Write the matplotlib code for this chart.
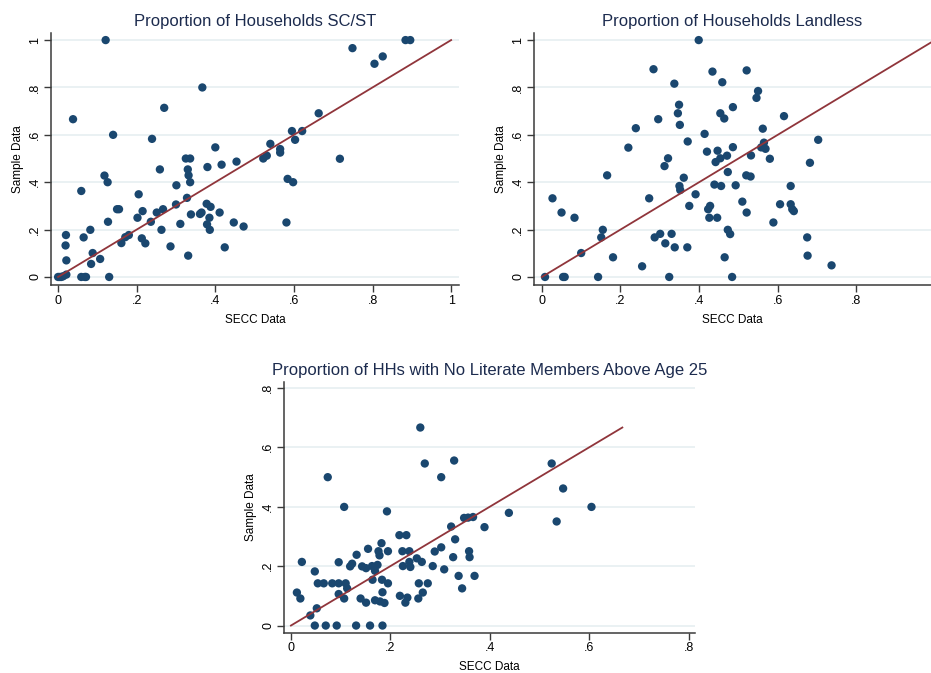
import numpy as np
import matplotlib
matplotlib.use("Agg")
import matplotlib.pyplot as plt

plt.rcParams['font.family'] = ['Liberation Sans', 'DejaVu Sans']

# Proportion of Households SC/ST
scst_secc = [0.121, 0.749, 0.884, 0.896, 0.826, 0.805, 0.367, 0.270, 0.038, 0.663,
             0.140, 0.239, 0.595, 0.621, 0.603, 0.400, 0.540, 0.565, 0.565, 0.522,
             0.531, 0.717, 0.325, 0.336, 0.330, 0.259, 0.380, 0.416, 0.454, 0.332,
             0.118, 0.126, 0.336, 0.584, 0.598, 0.059, 0.301, 0.205, 0.328, 0.300,
             0.378, 0.388, 0.150, 0.155, 0.267, 0.215, 0.251, 0.361, 0.365, 0.338,
             0.411, 0.202, 0.385, 0.127, 0.236, 0.311, 0.379, 0.447, 0.581, 0.472,
             0.082, 0.263, 0.386, 0.020, 0.065, 0.171, 0.180, 0.213, 0.161, 0.222,
             0.019, 0.286, 0.424, 0.088, 0.107, 0.021, 0.331, 0.084, 0.021, 0.013,
             0.000, 0.004, 0.008, 0.059, 0.068, 0.071, 0.130]
scst_sample = [1.000, 0.966, 1.000, 1.000, 0.931, 0.900, 0.800, 0.714, 0.666, 0.691,
               0.600, 0.583, 0.616, 0.616, 0.579, 0.547, 0.562, 0.540, 0.525, 0.500,
               0.512, 0.499, 0.500, 0.500, 0.454, 0.454, 0.464, 0.474, 0.487, 0.429,
               0.428, 0.400, 0.400, 0.414, 0.400, 0.363, 0.387, 0.349, 0.334, 0.306,
               0.309, 0.296, 0.286, 0.286, 0.286, 0.278, 0.272, 0.266, 0.272, 0.264,
               0.272, 0.250, 0.250, 0.233, 0.233, 0.224, 0.222, 0.230, 0.230, 0.213,
               0.199, 0.199, 0.199, 0.177, 0.167, 0.168, 0.177, 0.163, 0.143, 0.142,
               0.133, 0.129, 0.125, 0.101, 0.076, 0.070, 0.090, 0.055, 0.010, 0.003,
               0.000, 0.000, 0.000, 0.000, 0.000, 0.000, 0.000]

# Proportion of Households Landless
land_secc = [0.399, 0.284, 0.434, 0.521, 0.337, 0.459, 0.550, 0.546, 0.349, 0.486,
             0.346, 0.454, 0.464, 0.296, 0.616, 0.351, 0.239, 0.562, 0.414, 0.703,
             0.371, 0.565, 0.558, 0.569, 0.220, 0.486, 0.447, 0.420, 0.532, 0.471,
             0.321, 0.454, 0.580, 0.442, 0.682, 0.312, 0.473, 0.520, 0.531, 0.166,
             0.361, 0.439, 0.350, 0.352, 0.456, 0.493, 0.633, 0.391, 0.027, 0.273,
             0.510, 0.606, 0.633, 0.375, 0.428, 0.423, 0.637, 0.641, 0.050, 0.521,
             0.083, 0.426, 0.446, 0.589, 0.155, 0.473, 0.330, 0.301, 0.479, 0.151,
             0.287, 0.675, 0.314, 0.338, 0.370, 0.100, 0.181, 0.465, 0.676, 0.255,
             0.737, 0.008, 0.054, 0.058, 0.143, 0.324, 0.484]
land_sample = [1.000, 0.877, 0.867, 0.872, 0.816, 0.822, 0.785, 0.756, 0.727, 0.717,
               0.691, 0.691, 0.669, 0.666, 0.679, 0.642, 0.628, 0.626, 0.604, 0.579,
               0.572, 0.567, 0.547, 0.541, 0.546, 0.548, 0.533, 0.529, 0.513, 0.512,
               0.501, 0.501, 0.499, 0.485, 0.482, 0.468, 0.443, 0.429, 0.424, 0.429,
               0.419, 0.390, 0.384, 0.367, 0.384, 0.387, 0.384, 0.349, 0.332, 0.332,
               0.318, 0.307, 0.307, 0.300, 0.300, 0.286, 0.286, 0.278, 0.272, 0.272,
               0.250, 0.250, 0.250, 0.230, 0.199, 0.199, 0.182, 0.182, 0.181, 0.167,
               0.167, 0.167, 0.142, 0.125, 0.125, 0.101, 0.083, 0.083, 0.090, 0.045,
               0.049, 0.000, 0.000, 0.000, 0.000, 0.000, 0.000]

# Proportion of HHs with No Literate Members Above Age 25
lit_secc = [0.260, 0.328, 0.269, 0.524, 0.074, 0.302, 0.547, 0.107, 0.604, 0.193,
            0.438, 0.534, 0.348, 0.356, 0.366, 0.389, 0.322, 0.330, 0.218, 0.232,
            0.302, 0.155, 0.182, 0.176, 0.178, 0.195, 0.224, 0.238, 0.289, 0.358,
            0.132, 0.326, 0.359, 0.253, 0.022, 0.096, 0.263, 0.238, 0.240, 0.123,
            0.119, 0.143, 0.151, 0.163, 0.174, 0.169, 0.225, 0.285, 0.308, 0.048,
            0.337, 0.369, 0.164, 0.183, 0.054, 0.066, 0.083, 0.096, 0.110, 0.195,
            0.257, 0.275, 0.113, 0.344, 0.012, 0.096, 0.184, 0.265, 0.019, 0.107,
            0.140, 0.169, 0.179, 0.188, 0.151, 0.219, 0.234, 0.230, 0.256, 0.052,
            0.039, 0.048, 0.070, 0.092, 0.131, 0.159, 0.184]
lit_sample = [0.666, 0.555, 0.545, 0.545, 0.499, 0.499, 0.461, 0.399, 0.399, 0.384,
              0.379, 0.350, 0.362, 0.363, 0.365, 0.331, 0.333, 0.290, 0.304, 0.304,
              0.263, 0.258, 0.277, 0.250, 0.236, 0.250, 0.250, 0.250, 0.249, 0.250,
              0.238, 0.230, 0.230, 0.226, 0.214, 0.213, 0.214, 0.214, 0.197, 0.208,
              0.199, 0.199, 0.193, 0.200, 0.204, 0.184, 0.200, 0.200, 0.189, 0.182,
              0.167, 0.167, 0.154, 0.154, 0.142, 0.142, 0.142, 0.142, 0.142, 0.142,
              0.142, 0.142, 0.125, 0.125, 0.111, 0.106, 0.112, 0.111, 0.091, 0.091,
              0.091, 0.085, 0.081, 0.076, 0.077, 0.100, 0.094, 0.077, 0.091, 0.058,
              0.034, 0.000, 0.000, 0.000, 0.000, 0.000, 0.000]

NAVY = '#1a476f'
MAROON = '#90353b'
TITLE = '#1c2b4e'
GRID = '#e6eff1'


def fmt(v):
    if abs(v) < 1e-9:
        return '0'
    if abs(v - 1) < 1e-9:
        return '1'
    return ('%.1f' % v).lstrip('0')


def panel(fig, rect, x, y, title, xlim, ylim, xticks, yticks):
    ax = fig.add_axes(rect)
    for t in yticks:
        ax.axhline(t, color=GRID, lw=1.2, zorder=0)
    ax.scatter(x, y, s=36, color=NAVY, edgecolors='none', zorder=2)
    top = max(y)
    ax.plot([0, top], [0, top], color=MAROON, lw=1.3, zorder=3)
    ax.set_xlim(*xlim)
    ax.set_ylim(*ylim)
    ax.set_xticks(xticks)
    ax.set_xticklabels([fmt(v) for v in xticks])
    ax.set_yticks(yticks)
    ax.set_yticklabels([fmt(v) for v in yticks], rotation=90, va='center')
    ax.spines['top'].set_visible(False)
    ax.spines['right'].set_visible(False)
    for s in ('left', 'bottom'):
        ax.spines[s].set_color('#3a3a3a')
        ax.spines[s].set_linewidth(1.1)
    ax.tick_params(direction='out', length=5, width=1, color='#3a3a3a',
                   labelsize=9, labelcolor='black', pad=2)
    ax.set_xlabel('SECC Data', fontsize=8.5, labelpad=5)
    ax.set_ylabel('Sample Data', fontsize=8.5, labelpad=4)
    ax.set_title(title, fontsize=12, color=TITLE, pad=5)
    return ax


fig = plt.figure(figsize=(9.31, 6.73), dpi=100)
fig.patch.set_facecolor('white')

panel(fig, [0.0548, 0.5765, 0.4382, 0.3745], scst_secc, scst_sample,
      'Proportion of Households SC/ST', (-0.018, 1.02), (-0.034, 1.03),
      [0, 0.2, 0.4, 0.6, 0.8, 1.0], [0, 0.2, 0.4, 0.6, 0.8, 1.0])

panel(fig, [0.5736, 0.5765, 0.4264, 0.3745], land_secc, land_sample,
      'Proportion of Households Landless', (-0.020, 0.99), (-0.034, 1.03),
      [0, 0.2, 0.4, 0.6, 0.8], [0, 0.2, 0.4, 0.6, 0.8, 1.0])

panel(fig, [0.305, 0.0599, 0.4415, 0.3729], lit_secc, lit_sample,
      'Proportion of HHs with No Literate Members Above Age 25', (-0.014, 0.812), (-0.024, 0.82),
      [0, 0.2, 0.4, 0.6, 0.8], [0, 0.2, 0.4, 0.6, 0.8])

fig.savefig('out.png', dpi=100)
